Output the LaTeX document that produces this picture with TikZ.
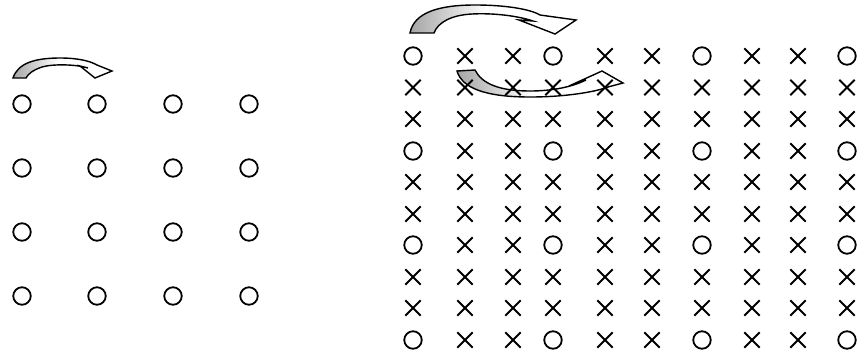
\documentclass[tikz,border=0pt]{standalone}
\usetikzlibrary{shapes.misc}
\pgfdeclarehorizontalshading{arrowshade}{100bp}{color(0bp)=(black!50); color(22bp)=(black!40); color(48bp)=(white); color(100bp)=(white)}
\begin{document}
\begin{tikzpicture}[x=1pt,y=-1pt,
  ring/.style={circle, draw, line width=1.8pt, minimum size=17.5pt, inner sep=0pt},
  xmark/.style={cross out, draw, line width=1.8pt, minimum size=13.5pt, inner sep=0pt},
  bentarrow/.style={draw, line width=1.4pt, shade, shading=arrowshade, line join=miter}]
\useasboundingbox (0,0) rectangle (857,357);
% curved arrows
\path[bentarrow] (13,78) .. controls (18,63) and (35,58) .. (60,58)
  .. controls (78,58) and (90,61) .. (97,65) -- (112,71) -- (95,78) -- (80,66) -- (88,68)
  .. controls (75,64) and (52,64) .. (42,67) .. controls (33,70) and (28,74) .. (26,78) -- cycle;
\path[bentarrow] (410,33) .. controls (414,12) and (440,5) .. (475,5)
  .. controls (505,5) and (530,9) .. (540,15) -- (576,20) -- (555,34) -- (519,20) -- (533,21)
  .. controls (515,15) and (490,13) .. (472,14) .. controls (452,15) and (438,22) .. (434,33) -- cycle;
\path[bentarrow] (457,71) .. controls (462,88) and (485,97) .. (530,97)
  .. controls (565,97) and (595,92) .. (608,87) -- (623,83) -- (602,71) -- (569,86) -- (586,80)
  .. controls (572,87) and (552,91) .. (530,91) .. controls (500,91) and (482,84) .. (475,70) -- cycle;
% left grid
\foreach \c/\x in {1/22,2/97,3/173,4/249}
  \foreach \r/\y in {1/104,2/168,3/232,4/296}
    \node[ring] (L-\r-\c) at (\x,\y) {};
% right grid
\foreach \c/\x in {1/413,2/465,3/513,4/553,5/605,6/652,7/702,8/752,9/798,10/847}
  \foreach \r/\y in {1/56,2/87.5,3/119,4/151,5/182,6/214,7/245,8/277,9/308,10/340}{
    \pgfmathtruncatemacro\isring{and(mod(\r-1,3)==0, mod(\c-1,3)==0)}
    \ifnum\isring=1
      \node[ring] (R-\r-\c) at (\x,\y) {};
    \else
      \node[xmark] (R-\r-\c) at (\x,\y) {};
    \fi
  }
\end{tikzpicture}
\end{document}
